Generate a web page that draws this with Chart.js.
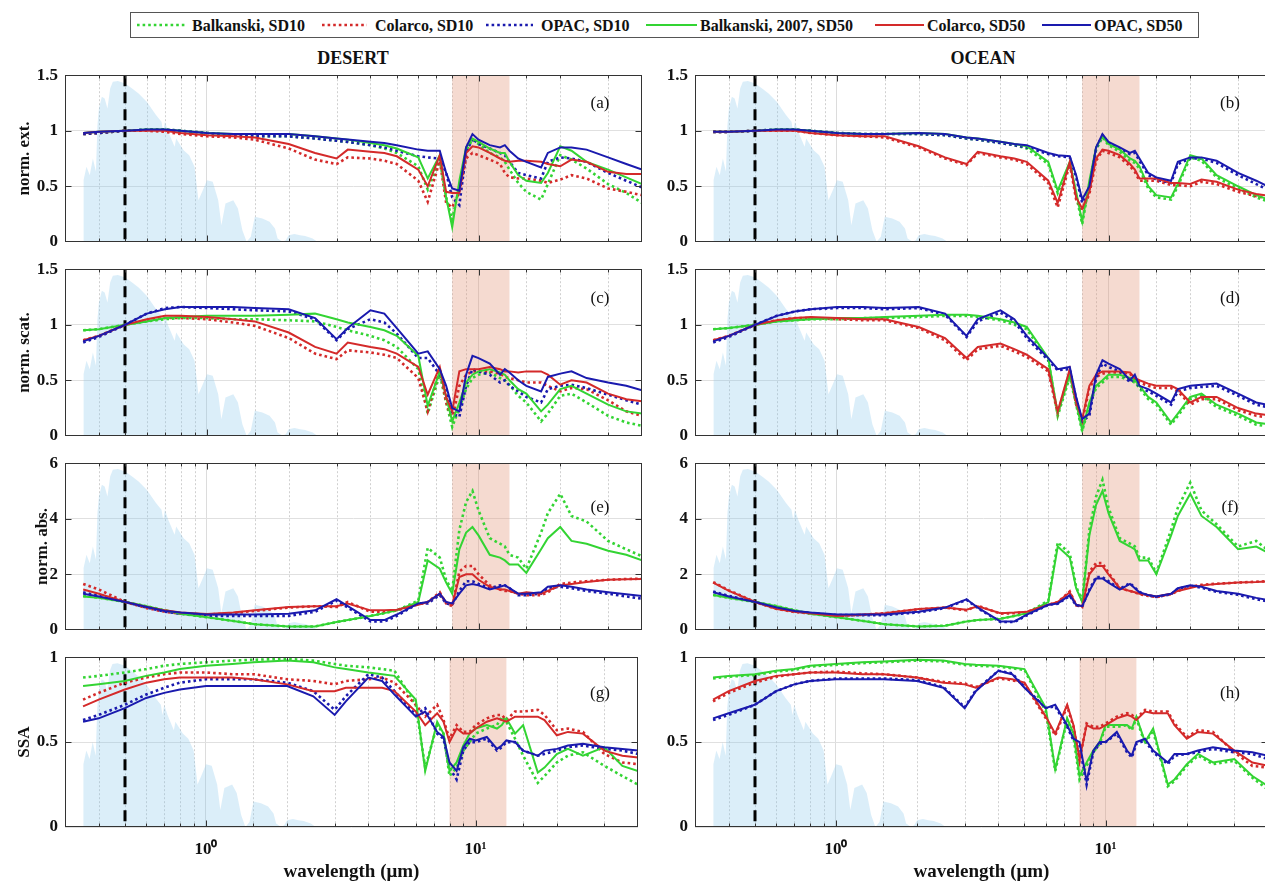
<!DOCTYPE html>
<html><head><meta charset="utf-8">
<script src="https://cdn.jsdelivr.net/npm/chart.js@4.4.1/dist/chart.umd.min.js"></script>
<style>
html,body{margin:0;padding:0;background:#fff;}
body{width:1265px;height:882px;overflow:hidden;position:relative;font-family:'Liberation Serif','Times New Roman',serif;}
canvas{position:absolute;}
.ttl{position:absolute;top:47px;font-weight:bold;font-size:18px;transform:translateX(-50%);white-space:nowrap;line-height:22px;color:#111;}
</style></head><body>
<svg style="position:absolute;left:130px;top:12px" width="1070" height="27">
<rect x="0.5" y="0.5" width="1068" height="25" fill="#fff" stroke="#555"/>
<g font-family="Liberation Serif, Times New Roman, serif" font-weight="bold" font-size="16" fill="#111" dominant-baseline="central">
<line x1="7" x2="56" y1="13" y2="13" stroke="#33d433" stroke-width="2.6" stroke-dasharray="2.6 3"/>
<text x="62" y="13.5">Balkanski, SD10</text>
<line x1="192" x2="237" y1="13" y2="13" stroke="#d42a2a" stroke-width="2.6" stroke-dasharray="2.6 3"/>
<text x="245" y="13.5">Colarco, SD10</text>
<line x1="356" x2="403" y1="13" y2="13" stroke="#1a1aae" stroke-width="2.6" stroke-dasharray="2.6 3"/>
<text x="411" y="13.5">OPAC, SD10</text>
<line x1="516" x2="567" y1="13" y2="13" stroke="#33d433" stroke-width="2"/>
<text x="570" y="13.5">Balkanski, 2007, SD50</text>
<line x1="745" x2="794" y1="13" y2="13" stroke="#d42a2a" stroke-width="2"/>
<text x="797" y="13.5">Colarco, SD50</text>
<line x1="912" x2="961" y1="13" y2="13" stroke="#1a1aae" stroke-width="2"/>
<text x="964" y="13.5">OPAC, SD50</text>
</g>
</svg>
<div class="ttl" style="left:353px">DESERT</div>
<div class="ttl" style="left:983px">OCEAN</div>
<script>
// ---------- DATA ----------
const W = [0.35,0.4,0.5,0.6,0.7,0.8,1.0,1.25,1.5,2.0,2.5,3.0,3.3,4.0,4.5,5.0,6.0,6.5,7.2,7.6,8.0,8.5,9.0,9.5,10,11,12,12.5,13,14,15,17,18,20,22,25,30,35,40];
const X_TICK_LABELS = {1:'10⁰', 10:'10¹'};
const BAND = [8, 13];
const REF_WL = 0.5;

// solar spectrum background (fraction of panel height)
const SOLAR_WL  = [0.35,0.351,0.36,0.37,0.38,0.39,0.395,0.40,0.41,0.42,0.43,0.44,0.45,0.47,0.50,0.53,0.56,0.60,0.65,0.68,0.69,0.70,0.72,0.76,0.77,0.82,0.86,0.90,0.93,0.96,1.0,1.05,1.1,1.13,1.17,1.25,1.3,1.35,1.40,1.45,1.5,1.6,1.7,1.78,1.82,1.9,1.95,2.0,2.1,2.2,2.3,2.45,2.55];
const SOLAR_VAL = [0,0.37,0.45,0.40,0.50,0.42,0.70,0.80,0.87,0.86,0.80,0.92,0.96,0.965,0.95,0.92,0.89,0.84,0.76,0.72,0.66,0.72,0.66,0.57,0.62,0.55,0.52,0.45,0.25,0.30,0.37,0.36,0.25,0.10,0.23,0.25,0.20,0.07,0.0,0.03,0.15,0.14,0.12,0.08,0.02,0.0,0.01,0.04,0.047,0.04,0.035,0.02,0.0];

// (a) DESERT normalized extinction
const EXT_D_BAL10 = [0.97,0.98,1.0,1.01,1.01,1.0,0.98,0.96,0.95,0.95,0.93,0.91,0.90,0.87,0.84,0.80,0.68,0.47,0.74,0.40,0.20,0.50,0.82,0.92,0.88,0.80,0.76,0.72,0.65,0.53,0.45,0.38,0.52,0.78,0.74,0.66,0.52,0.44,0.35];
const EXT_D_COL10 = [0.97,0.98,1.0,1.0,0.99,0.97,0.95,0.94,0.92,0.84,0.74,0.70,0.76,0.75,0.73,0.70,0.55,0.36,0.73,0.35,0.31,0.45,0.75,0.80,0.78,0.74,0.70,0.62,0.58,0.57,0.57,0.55,0.53,0.56,0.60,0.57,0.48,0.45,0.42];
const EXT_D_OPAC10 = [0.97,0.98,1.0,1.01,1.01,1.0,0.98,0.96,0.95,0.95,0.93,0.91,0.90,0.87,0.85,0.82,0.77,0.76,0.75,0.62,0.40,0.33,0.80,0.93,0.88,0.84,0.80,0.78,0.72,0.62,0.60,0.57,0.72,0.76,0.75,0.72,0.62,0.55,0.49];
const EXT_D_BAL50 = [0.98,0.99,1.0,1.01,1.01,1.0,0.98,0.97,0.97,0.97,0.95,0.93,0.92,0.89,0.87,0.84,0.76,0.57,0.78,0.40,0.13,0.55,0.85,0.93,0.90,0.84,0.80,0.80,0.72,0.60,0.55,0.53,0.62,0.86,0.82,0.72,0.65,0.58,0.52];
const EXT_D_COL50 = [0.98,0.99,1.0,1.0,1.0,0.98,0.96,0.95,0.94,0.88,0.80,0.75,0.83,0.81,0.80,0.77,0.65,0.50,0.78,0.45,0.44,0.44,0.80,0.86,0.85,0.80,0.75,0.73,0.72,0.73,0.73,0.72,0.70,0.68,0.74,0.72,0.63,0.61,0.61];
const EXT_D_OPAC50 = [0.98,0.99,1.0,1.01,1.01,1.0,0.98,0.97,0.97,0.97,0.95,0.93,0.92,0.90,0.89,0.87,0.83,0.82,0.82,0.62,0.48,0.46,0.85,0.97,0.92,0.87,0.85,0.87,0.82,0.75,0.72,0.67,0.80,0.85,0.85,0.83,0.76,0.70,0.65];

// (c) DESERT normalized scattering
const SCA_D_BAL10 = [0.95,0.96,1.0,1.03,1.05,1.06,1.06,1.05,1.05,1.04,1.03,0.98,0.95,0.90,0.86,0.80,0.60,0.20,0.55,0.30,0.08,0.25,0.42,0.52,0.55,0.57,0.52,0.50,0.46,0.36,0.30,0.13,0.20,0.36,0.38,0.30,0.18,0.12,0.09];
const SCA_D_COL10 = [0.86,0.9,1.0,1.04,1.06,1.06,1.05,1.02,0.99,0.88,0.74,0.69,0.77,0.75,0.73,0.70,0.52,0.22,0.60,0.30,0.15,0.45,0.55,0.58,0.58,0.58,0.56,0.53,0.52,0.50,0.48,0.48,0.45,0.40,0.43,0.42,0.32,0.22,0.18];
const SCA_D_OPAC10 = [0.84,0.89,1.0,1.1,1.15,1.16,1.15,1.14,1.13,1.12,1.05,0.86,0.96,1.05,1.02,0.92,0.70,0.70,0.55,0.40,0.20,0.17,0.45,0.60,0.58,0.55,0.48,0.50,0.45,0.40,0.35,0.30,0.42,0.45,0.46,0.43,0.37,0.32,0.28];
const SCA_D_BAL50 = [0.95,0.96,1.0,1.03,1.06,1.07,1.08,1.08,1.08,1.09,1.10,1.05,1.02,0.98,0.95,0.90,0.72,0.27,0.58,0.35,0.13,0.30,0.48,0.55,0.58,0.60,0.57,0.55,0.50,0.42,0.38,0.22,0.28,0.42,0.45,0.38,0.28,0.22,0.20];
const SCA_D_COL50 = [0.86,0.9,1.0,1.05,1.08,1.08,1.07,1.05,1.03,0.93,0.80,0.74,0.84,0.80,0.78,0.74,0.62,0.37,0.62,0.35,0.22,0.58,0.60,0.60,0.60,0.62,0.60,0.58,0.58,0.57,0.58,0.58,0.55,0.46,0.50,0.48,0.38,0.33,0.31];
const SCA_D_OPAC50 = [0.85,0.9,1.0,1.1,1.14,1.16,1.16,1.16,1.15,1.14,1.06,0.87,0.97,1.13,1.1,0.97,0.74,0.76,0.60,0.45,0.25,0.22,0.55,0.72,0.70,0.65,0.55,0.60,0.57,0.50,0.45,0.40,0.53,0.56,0.58,0.52,0.48,0.45,0.41];

// (e) DESERT normalized absorption
const ABS_D_BAL10 = [1.22,1.16,1.0,0.85,0.7,0.58,0.45,0.32,0.2,0.12,0.12,0.28,0.35,0.5,0.6,0.7,1.05,2.95,2.6,1.8,1.4,3.6,4.6,5.0,4.3,3.3,3.1,3.0,2.7,2.6,2.2,3.5,4.2,4.9,4.1,3.9,3.2,2.9,2.65];
const ABS_D_COL10 = [1.65,1.45,1.0,0.78,0.65,0.58,0.55,0.6,0.68,0.8,0.85,0.82,1.0,0.65,0.65,0.7,0.92,1.0,1.35,0.95,0.85,2.1,2.3,2.3,2.0,1.6,1.45,1.4,1.4,1.3,1.25,1.25,1.35,1.65,1.7,1.75,1.8,1.83,1.84];
const ABS_D_OPAC10 = [1.35,1.22,1.0,0.8,0.65,0.58,0.5,0.5,0.5,0.5,0.65,1.05,0.8,0.3,0.3,0.5,0.95,0.95,1.25,0.95,0.9,1.4,1.75,1.75,1.65,1.5,1.6,1.6,1.5,1.25,1.25,1.3,1.5,1.55,1.5,1.4,1.3,1.2,1.12];
const ABS_D_BAL50 = [1.2,1.15,1.0,0.85,0.7,0.58,0.45,0.32,0.2,0.12,0.12,0.28,0.35,0.5,0.6,0.7,1.0,2.5,2.2,1.7,1.3,2.9,3.5,3.7,3.4,2.7,2.6,2.5,2.35,2.35,2.05,2.9,3.3,3.7,3.2,3.1,2.85,2.7,2.5];
const ABS_D_COL50 = [1.45,1.3,1.0,0.82,0.7,0.62,0.57,0.62,0.7,0.82,0.85,0.85,0.95,0.7,0.7,0.72,0.9,1.0,1.3,1.0,0.9,1.9,2.0,2.0,1.8,1.55,1.45,1.45,1.4,1.3,1.35,1.3,1.4,1.6,1.65,1.72,1.8,1.82,1.83];
const ABS_D_OPAC50 = [1.3,1.2,1.0,0.82,0.68,0.62,0.55,0.55,0.55,0.58,0.7,1.1,0.85,0.35,0.35,0.55,0.95,1.0,1.3,1.0,0.95,1.3,1.6,1.65,1.6,1.45,1.55,1.6,1.5,1.3,1.3,1.35,1.55,1.6,1.55,1.45,1.35,1.28,1.22];

// (g) DESERT single scattering albedo
const SSA_D_BAL10 = [0.88,0.89,0.91,0.93,0.95,0.96,0.97,0.98,0.985,0.99,0.98,0.96,0.95,0.94,0.93,0.92,0.72,0.35,0.6,0.55,0.3,0.35,0.45,0.5,0.55,0.58,0.6,0.65,0.62,0.52,0.42,0.26,0.3,0.38,0.42,0.44,0.36,0.3,0.25];
const SSA_D_COL10 = [0.75,0.79,0.85,0.88,0.9,0.91,0.91,0.9,0.9,0.87,0.86,0.84,0.86,0.87,0.88,0.85,0.72,0.65,0.72,0.63,0.52,0.6,0.56,0.56,0.6,0.64,0.66,0.66,0.63,0.68,0.68,0.69,0.66,0.57,0.58,0.56,0.43,0.38,0.37];
const SSA_D_OPAC10 = [0.63,0.66,0.72,0.78,0.82,0.85,0.87,0.87,0.87,0.85,0.8,0.69,0.77,0.9,0.88,0.8,0.66,0.7,0.55,0.52,0.35,0.28,0.45,0.5,0.5,0.52,0.45,0.47,0.5,0.5,0.45,0.42,0.43,0.45,0.47,0.48,0.46,0.45,0.43];
const SSA_D_BAL50 = [0.83,0.84,0.86,0.89,0.91,0.93,0.95,0.96,0.97,0.98,0.97,0.94,0.93,0.91,0.9,0.89,0.75,0.33,0.62,0.55,0.33,0.38,0.48,0.55,0.58,0.6,0.58,0.6,0.64,0.55,0.6,0.32,0.35,0.43,0.46,0.42,0.47,0.36,0.33];
const SSA_D_COL50 = [0.71,0.75,0.81,0.85,0.87,0.88,0.88,0.88,0.87,0.84,0.8,0.8,0.82,0.82,0.82,0.8,0.68,0.6,0.67,0.62,0.5,0.58,0.55,0.55,0.58,0.62,0.64,0.63,0.62,0.65,0.65,0.65,0.63,0.54,0.56,0.55,0.45,0.42,0.41];
const SSA_D_OPAC50 = [0.62,0.64,0.7,0.76,0.79,0.81,0.83,0.83,0.83,0.83,0.77,0.66,0.74,0.88,0.86,0.78,0.65,0.68,0.56,0.53,0.38,0.33,0.47,0.52,0.51,0.53,0.46,0.48,0.51,0.5,0.45,0.42,0.45,0.46,0.48,0.49,0.47,0.46,0.45];

// (b) OCEAN normalized extinction
const EXT_O_BAL10 = [0.99,0.99,1.0,1.01,1.01,1.0,0.98,0.97,0.97,0.97,0.96,0.93,0.92,0.89,0.87,0.84,0.7,0.44,0.7,0.42,0.16,0.52,0.83,0.94,0.87,0.81,0.73,0.71,0.66,0.48,0.4,0.38,0.5,0.76,0.73,0.58,0.48,0.4,0.35];
const EXT_O_COL10 = [0.99,0.99,1.0,1.0,1.0,0.98,0.96,0.95,0.94,0.85,0.75,0.69,0.8,0.76,0.74,0.7,0.53,0.31,0.7,0.38,0.28,0.43,0.73,0.82,0.8,0.76,0.68,0.63,0.55,0.55,0.55,0.51,0.51,0.5,0.54,0.52,0.45,0.41,0.39];
const EXT_O_OPAC10 = [0.99,0.99,1.0,1.01,1.01,1.0,0.98,0.97,0.97,0.97,0.96,0.93,0.92,0.89,0.87,0.85,0.79,0.77,0.76,0.58,0.35,0.48,0.84,0.96,0.89,0.84,0.79,0.8,0.73,0.6,0.56,0.53,0.7,0.75,0.75,0.71,0.6,0.52,0.45];
const EXT_O_BAL50 = [0.99,0.99,1.0,1.01,1.01,1.0,0.98,0.97,0.97,0.98,0.97,0.94,0.93,0.9,0.88,0.86,0.72,0.46,0.72,0.45,0.18,0.55,0.85,0.95,0.88,0.83,0.75,0.73,0.68,0.5,0.42,0.4,0.52,0.78,0.75,0.6,0.5,0.42,0.37];
const EXT_O_COL50 = [0.99,0.99,1.0,1.0,1.0,0.98,0.96,0.95,0.95,0.86,0.76,0.7,0.81,0.77,0.75,0.72,0.55,0.35,0.72,0.4,0.3,0.45,0.75,0.83,0.82,0.78,0.7,0.65,0.57,0.57,0.57,0.53,0.53,0.52,0.56,0.54,0.47,0.43,0.41];
const EXT_O_OPAC50 = [0.99,0.99,1.0,1.01,1.01,1.0,0.98,0.97,0.97,0.98,0.97,0.94,0.93,0.9,0.88,0.87,0.8,0.78,0.77,0.6,0.38,0.5,0.85,0.97,0.9,0.85,0.8,0.82,0.75,0.62,0.58,0.55,0.72,0.76,0.76,0.73,0.62,0.55,0.48];

// (d) OCEAN normalized scattering
const SCA_O_BAL10 = [0.96,0.97,1.0,1.03,1.04,1.05,1.05,1.06,1.06,1.07,1.08,1.08,1.07,1.04,1.0,0.96,0.68,0.18,0.53,0.28,0.04,0.28,0.43,0.48,0.53,0.53,0.5,0.48,0.43,0.33,0.28,0.1,0.18,0.33,0.36,0.26,0.18,0.1,0.08];
const SCA_O_COL10 = [0.86,0.9,1.0,1.04,1.06,1.06,1.05,1.04,1.04,0.97,0.86,0.68,0.78,0.81,0.76,0.71,0.58,0.2,0.58,0.28,0.13,0.43,0.53,0.56,0.57,0.57,0.56,0.5,0.48,0.45,0.43,0.43,0.4,0.28,0.33,0.33,0.23,0.18,0.16];
const SCA_O_OPAC10 = [0.84,0.89,1.0,1.08,1.12,1.14,1.15,1.15,1.14,1.15,1.09,0.89,1.03,1.11,1.03,0.88,0.68,0.59,0.6,0.33,0.13,0.18,0.52,0.65,0.62,0.58,0.48,0.52,0.43,0.4,0.36,0.28,0.4,0.43,0.44,0.45,0.36,0.28,0.25];
const SCA_O_BAL50 = [0.96,0.97,1.0,1.03,1.04,1.05,1.06,1.06,1.07,1.08,1.09,1.09,1.08,1.05,1.02,0.98,0.7,0.2,0.55,0.3,0.05,0.3,0.45,0.5,0.55,0.55,0.52,0.5,0.45,0.35,0.3,0.12,0.2,0.35,0.38,0.28,0.2,0.12,0.1];
const SCA_O_COL50 = [0.86,0.9,1.0,1.04,1.06,1.07,1.06,1.05,1.05,0.98,0.88,0.7,0.8,0.83,0.78,0.73,0.6,0.22,0.6,0.3,0.15,0.45,0.55,0.58,0.58,0.58,0.57,0.52,0.5,0.47,0.45,0.45,0.42,0.3,0.35,0.35,0.25,0.2,0.18];
const SCA_O_OPAC50 = [0.85,0.9,1.0,1.08,1.12,1.14,1.16,1.16,1.15,1.16,1.1,0.9,1.05,1.13,1.05,0.9,0.7,0.6,0.62,0.35,0.15,0.2,0.55,0.68,0.65,0.6,0.5,0.55,0.45,0.42,0.38,0.3,0.42,0.45,0.46,0.47,0.38,0.3,0.27];

// (f) OCEAN normalized absorption
const ABS_O_BAL10 = [1.25,1.15,1.0,0.85,0.7,0.58,0.45,0.32,0.2,0.12,0.15,0.3,0.35,0.4,0.5,0.6,1.05,3.15,2.75,1.55,1.05,3.6,4.8,5.4,4.4,3.3,3.1,3.0,2.6,2.6,2.05,3.6,4.4,5.3,4.3,3.8,3.0,3.2,2.75];
const ABS_O_COL10 = [1.72,1.42,1.0,0.75,0.64,0.59,0.5,0.54,0.6,0.74,0.8,0.7,0.87,0.58,0.6,0.64,0.9,1.0,1.38,0.88,0.82,2.1,2.4,2.4,2.05,1.5,1.4,1.35,1.28,1.22,1.18,1.28,1.4,1.55,1.62,1.66,1.7,1.73,1.76];
const ABS_O_OPAC10 = [1.38,1.22,1.0,0.79,0.66,0.6,0.53,0.53,0.53,0.63,0.78,1.08,0.78,0.28,0.28,0.52,0.9,0.94,1.22,0.88,0.84,1.45,1.9,1.9,1.75,1.48,1.68,1.52,1.36,1.24,1.18,1.28,1.48,1.58,1.52,1.37,1.26,1.1,1.0];
const ABS_O_BAL50 = [1.25,1.15,1.0,0.85,0.7,0.58,0.45,0.32,0.2,0.12,0.15,0.3,0.35,0.4,0.5,0.6,1.0,3.0,2.6,1.5,1.0,3.4,4.5,5.0,4.2,3.2,3.0,2.9,2.5,2.5,2.0,3.4,4.1,4.9,4.1,3.7,2.9,3.0,2.7];
const ABS_O_COL50 = [1.7,1.4,1.0,0.75,0.65,0.6,0.5,0.55,0.6,0.75,0.8,0.72,0.85,0.6,0.62,0.65,0.9,1.0,1.35,0.9,0.85,2.0,2.3,2.3,2.0,1.5,1.4,1.35,1.3,1.25,1.2,1.3,1.4,1.5,1.6,1.65,1.7,1.72,1.75];
const ABS_O_OPAC50 = [1.35,1.2,1.0,0.8,0.68,0.62,0.55,0.55,0.55,0.65,0.8,1.1,0.8,0.3,0.3,0.55,0.9,0.95,1.25,0.9,0.85,1.4,1.85,1.85,1.7,1.45,1.65,1.5,1.35,1.25,1.2,1.3,1.5,1.6,1.55,1.4,1.3,1.15,1.05];

// (h) OCEAN single scattering albedo
const SSA_O_BAL10 = [0.875,0.885,0.895,0.915,0.925,0.945,0.955,0.965,0.97,0.98,0.975,0.955,0.95,0.945,0.935,0.925,0.68,0.33,0.63,0.53,0.28,0.36,0.44,0.49,0.59,0.59,0.6,0.57,0.64,0.49,0.57,0.24,0.27,0.36,0.42,0.37,0.39,0.29,0.22];
const SSA_O_COL10 = [0.74,0.79,0.85,0.885,0.9,0.91,0.915,0.905,0.9,0.88,0.855,0.845,0.825,0.875,0.865,0.845,0.64,0.54,0.71,0.59,0.39,0.61,0.59,0.59,0.61,0.65,0.67,0.66,0.64,0.69,0.68,0.68,0.61,0.53,0.57,0.56,0.44,0.36,0.35];
const SSA_O_OPAC10 = [0.63,0.66,0.72,0.8,0.84,0.86,0.875,0.875,0.875,0.865,0.825,0.705,0.805,0.92,0.905,0.825,0.7,0.71,0.59,0.51,0.48,0.25,0.44,0.49,0.5,0.55,0.44,0.41,0.49,0.51,0.44,0.37,0.42,0.43,0.44,0.46,0.44,0.43,0.4];
const SSA_O_BAL50 = [0.88,0.89,0.9,0.92,0.93,0.95,0.96,0.97,0.975,0.985,0.98,0.96,0.955,0.95,0.94,0.93,0.7,0.34,0.64,0.55,0.3,0.38,0.45,0.5,0.6,0.6,0.6,0.58,0.65,0.5,0.58,0.25,0.28,0.37,0.43,0.38,0.4,0.3,0.24];
const SSA_O_COL50 = [0.75,0.8,0.86,0.89,0.9,0.91,0.91,0.9,0.9,0.88,0.85,0.84,0.82,0.88,0.87,0.85,0.65,0.55,0.72,0.6,0.4,0.6,0.58,0.58,0.6,0.64,0.66,0.65,0.63,0.68,0.67,0.67,0.6,0.52,0.56,0.55,0.45,0.38,0.36];
const SSA_O_OPAC50 = [0.64,0.67,0.72,0.8,0.84,0.86,0.87,0.87,0.87,0.86,0.82,0.7,0.8,0.92,0.9,0.82,0.7,0.72,0.6,0.52,0.5,0.27,0.45,0.5,0.5,0.56,0.45,0.42,0.5,0.52,0.45,0.38,0.43,0.43,0.45,0.47,0.45,0.44,0.42];

// ---------- STYLE / LAYOUT ----------
const GREEN = '#33d433', RED = '#d42a2a', BLUE = '#1a1aae';
const SERIES = [
  {label:'Balkanski, SD10', color:GREEN, dotted:true, order:6},
  {label:'Colarco, SD10', color:RED, dotted:true, order:5},
  {label:'OPAC, SD10', color:BLUE, dotted:true, order:4},
  {label:'Balkanski, 2007, SD50', color:GREEN, dotted:false, order:3},
  {label:'Colarco, SD50', color:RED, dotted:false, order:2},
  {label:'OPAC, SD50', color:BLUE, dotted:false, order:1}
];
const PLOT_TOPS = [70, 264, 458, 652];
const PLOT_H = 175, Y_AXIS_W = 65, PAD_TOP = 12, PAD_RIGHT = 8, PLOT_W = 577;

const PANELS = [
  {letter:'(a)', col:0, row:0, ymax:1.5, step:0.5, ylabel:'norm. ext.', ytp:14, ldy:28, sets:[EXT_D_BAL10,EXT_D_COL10,EXT_D_OPAC10,EXT_D_BAL50,EXT_D_COL50,EXT_D_OPAC50]},
  {letter:'(b)', col:1, row:0, ymax:1.5, step:0.5, ylabel:'', ytp:14, ldy:28, sets:[EXT_O_BAL10,EXT_O_COL10,EXT_O_OPAC10,EXT_O_BAL50,EXT_O_COL50,EXT_O_OPAC50]},
  {letter:'(c)', col:0, row:1, ymax:1.5, step:0.5, ylabel:'norm. scat.', ytp:14, ldy:29, sets:[SCA_D_BAL10,SCA_D_COL10,SCA_D_OPAC10,SCA_D_BAL50,SCA_D_COL50,SCA_D_OPAC50]},
  {letter:'(d)', col:1, row:1, ymax:1.5, step:0.5, ylabel:'', ytp:14, ldy:29, sets:[SCA_O_BAL10,SCA_O_COL10,SCA_O_OPAC10,SCA_O_BAL50,SCA_O_COL50,SCA_O_OPAC50]},
  {letter:'(e)', col:0, row:2, ymax:6, step:2, ylabel:'norm. abs.', ytp:32, ldy:44, sets:[ABS_D_BAL10,ABS_D_COL10,ABS_D_OPAC10,ABS_D_BAL50,ABS_D_COL50,ABS_D_OPAC50]},
  {letter:'(f)', col:1, row:2, ymax:6, step:2, ylabel:'', ytp:14, ldy:44, sets:[ABS_O_BAL10,ABS_O_COL10,ABS_O_OPAC10,ABS_O_BAL50,ABS_O_COL50,ABS_O_OPAC50]},
  {letter:'(g)', col:0, row:3, ymax:1, step:0.5, ylabel:'SSA', ytp:14, ldy:36, sets:[SSA_D_BAL10,SSA_D_COL10,SSA_D_OPAC10,SSA_D_BAL50,SSA_D_COL50,SSA_D_OPAC50]},
  {letter:'(h)', col:1, row:3, ymax:1, step:0.5, ylabel:'', ytp:14, ldy:36, sets:[SSA_O_BAL10,SSA_O_COL10,SSA_O_OPAC10,SSA_O_BAL50,SSA_O_COL50,SSA_O_OPAC50]}
];

Chart.defaults.font.family = "'Liberation Serif','Times New Roman',serif";
Chart.defaults.color = '#111';

function isMajor(v){ if(!(v>0)) return false; const l=Math.log10(v); return Math.abs(l-Math.round(l))<1e-6; }

const decor = {
  id:'decor',
  beforeDatasetsDraw(chart){
    const {ctx, chartArea:a, scales:{x}} = chart;
    ctx.save();
    ctx.strokeStyle = '#d0d0d0'; ctx.lineWidth = 1; ctx.setLineDash([2,2]);
    for (const t of x.ticks){
      if (isMajor(t.value)) continue;
      const px = Math.round(x.getPixelForValue(t.value)) + 0.5;
      if (px <= a.left+1 || px >= a.right-1) continue;
      ctx.beginPath(); ctx.moveTo(px, a.top); ctx.lineTo(px, a.bottom); ctx.stroke();
    }
    ctx.setLineDash([]);
    const x1 = x.getPixelForValue(BAND[0]), x2 = x.getPixelForValue(BAND[1]);
    ctx.fillStyle = 'rgba(225,150,120,0.35)';
    ctx.fillRect(x1, a.top, x2-x1, a.bottom-a.top);
    ctx.restore();
  },
  afterDatasetDraw(chart, args){
    if (args.index !== 0) return;
    const {ctx, chartArea:a, scales:{x}} = chart;
    const px = Math.round(x.getPixelForValue(REF_WL));
    ctx.save();
    ctx.strokeStyle = '#000'; ctx.lineWidth = 3; ctx.setLineDash([11,6]);
    ctx.beginPath(); ctx.moveTo(px, a.top); ctx.lineTo(px, a.bottom); ctx.stroke();
    ctx.restore();
  },
  afterDraw(chart, args, opts){
    const {ctx, chartArea:a, scales:{x,y}} = chart;
    ctx.save();
    ctx.strokeStyle = '#333'; ctx.lineWidth = 1;
    const L = Math.round(a.left)+0.5, T = Math.round(a.top)+0.5, R = Math.round(a.right)-0.5, B = Math.round(a.bottom)-0.5;
    ctx.beginPath();
    for (const t of x.ticks){
      const px = Math.round(x.getPixelForValue(t.value))+0.5;
      if (px <= a.left+1 || px >= a.right-1) continue;
      const len = isMajor(t.value) ? 6 : 3;
      ctx.moveTo(px, T); ctx.lineTo(px, T+len);
      ctx.moveTo(px, B); ctx.lineTo(px, B-len);
    }
    for (const t of y.ticks){
      const py = Math.round(y.getPixelForValue(t.value))+0.5;
      if (py <= a.top+1 || py >= a.bottom-1) continue;
      ctx.moveTo(L, py); ctx.lineTo(L+6, py);
      ctx.moveTo(R, py); ctx.lineTo(R-6, py);
    }
    ctx.stroke();
    ctx.strokeRect(L, T, R-L, B-T);
    ctx.fillStyle = '#111';
    ctx.font = "17px 'Liberation Serif','Times New Roman',serif";
    ctx.textAlign = 'center'; ctx.textBaseline = 'middle';
    ctx.fillText(opts.letter, a.left + 535, a.top + opts.dy);
    ctx.restore();
  }
};

PANELS.forEach(p => {
  const isBottom = p.row === 3;
  const xh = isBottom ? 60 : 14;
  const cv = document.createElement('canvas');
  cv.width = Y_AXIS_W + PLOT_W + PAD_RIGHT;
  cv.height = PAD_TOP + PLOT_H + xh;
  cv.style.left = (p.col ? 630 : 0) + 'px';
  cv.style.top = (PLOT_TOPS[p.row] - PAD_TOP) + 'px';
  document.body.appendChild(cv);

  const datasets = [{
    data: SOLAR_WL.map((w,i)=>({x:w, y:SOLAR_VAL[i]})),
    yAxisID:'ys', fill:'origin', backgroundColor:'rgba(135,200,235,0.3)',
    borderColor:'rgba(0,0,0,0)', borderWidth:0, pointRadius:0, order:100
  }];
  SERIES.forEach((s,k) => datasets.push({
    label:s.label,
    data: W.map((w,i)=>({x:w, y:p.sets[k][i]})),
    yAxisID:'y', borderColor:s.color, backgroundColor:s.color,
    borderWidth: s.dotted ? 2.6 : 2, borderDash: s.dotted ? [2.6,3] : [],
    pointRadius:0, fill:false, tension:0, order:s.order
  }));

  new Chart(cv, {
    type:'line',
    data:{datasets},
    plugins:[decor],
    options:{
      responsive:false, animation:false, devicePixelRatio:1,
      layout:{padding:{top:PAD_TOP, right:PAD_RIGHT, left:0, bottom:0}},
      plugins:{legend:{display:false}, tooltip:{enabled:false}, decor:{letter:p.letter, dy:p.ldy}},
      scales:{
        x:{type:'logarithmic', min:0.3, max:40, position:'bottom',
           grid:{color:c => isMajor(c.tick && c.tick.value) ? '#dcdcdc' : 'rgba(0,0,0,0)', drawTicks:false, lineWidth:1},
           border:{display:false},
           ticks:{display:isBottom, autoSkip:false, maxRotation:0, minRotation:0, padding:12,
                  font:{size:17, weight:'bold'}, color:'#111',
                  callback:(v)=>{ for (const k in X_TICK_LABELS){ if (Math.abs(v-Number(k))<1e-9) return X_TICK_LABELS[k]; } return ''; }},
           title:{display:isBottom, text:'wavelength (μm)', font:{size:19, weight:'bold'}, color:'#111', padding:{top:0, bottom:4}},
           afterFit:s => { s.height = xh; }
        },
        y:{type:'linear', min:0, max:p.ymax, position:'left',
           grid:{color:'#e0e0e0', drawTicks:false, lineWidth:1},
           border:{display:false},
           ticks:{stepSize:p.step, padding:7, font:{size:17, weight:'bold'}, color:'#111',
                  callback:(v)=> String(Math.round(v*100)/100)},
           title:{display:!!p.ylabel, text:p.ylabel, font:{size:17, weight:'bold'}, color:'#111', padding:{top:p.ytp, bottom:0}},
           afterFit:s => { s.width = Y_AXIS_W; }
        },
        ys:{type:'linear', display:false, min:0, max:1}
      }
    }
  });
});
</script>
</body></html>
